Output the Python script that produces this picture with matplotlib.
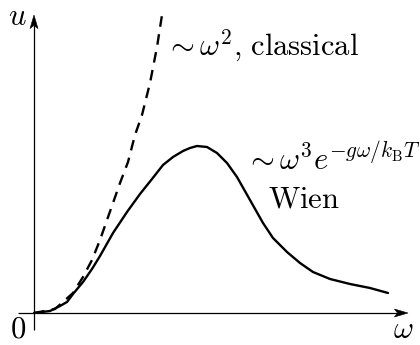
import matplotlib
matplotlib.use("Agg")
import matplotlib.pyplot as plt
from matplotlib.patches import Polygon

plt.rcParams['mathtext.fontset'] = 'cm'
plt.rcParams['font.family'] = ['DejaVu Serif']

# Spectral energy density (arbitrary units)
omega_wien = [0.0, 0.4, 0.65, 0.825, 0.975, 1.225, 1.45, 1.65, 1.975, 2.325,
              2.65, 2.95, 3.225, 3.475, 3.725, 3.9, 4.075, 4.325, 4.575, 4.825,
              5.075, 5.4, 5.725, 5.975, 6.325, 6.65, 6.975, 7.4, 7.9, 8.4, 8.85]
u_wien = [0.0, 0.05, 0.175, 0.275, 0.475, 0.775, 1.1, 1.425, 2.0, 2.525,
          2.975, 3.35, 3.7, 3.9, 4.05, 4.125, 4.175, 4.15, 4.0, 3.75,
          3.4, 2.825, 2.25, 1.875, 1.525, 1.25, 1.025, 0.85, 0.725, 0.625, 0.5]

omega_classical = [0.0, 0.525, 0.975, 1.225, 1.45, 1.65, 1.825, 1.975, 2.15,
                   2.35, 2.525, 2.7, 2.9, 3.075, 3.2]
u_classical = [0.0, 0.1, 0.5, 0.9, 1.325, 1.825, 2.325, 2.75, 3.25,
               3.775, 4.45, 4.95, 5.75, 6.65, 7.45]

fig = plt.figure(figsize=(4.2, 3.45), dpi=100)
ax = fig.add_axes([0, 0, 1, 1])
ax.set_xlim(-0.85, 9.65)
ax.set_ylim(-0.8, 7.825)
ax.axis('off')


def axis_arrow(x0, y0, x1, y1, length=0.34, half=0.1, notch=0.08):
    """Axis line ending in a slim stealth-style arrowhead."""
    dx, dy = x1 - x0, y1 - y0
    n = (dx * dx + dy * dy) ** 0.5
    ux, uy = dx / n, dy / n
    px, py = -uy, ux
    bx, by = x1 - ux * length, y1 - uy * length
    ax.plot([x0, bx + ux * notch], [y0, by + uy * notch],
            color='black', lw=0.9, solid_capstyle='butt')
    head = [(x1, y1),
            (bx + px * half, by + py * half),
            (bx + ux * notch, by + uy * notch),
            (bx - px * half, by - py * half)]
    ax.add_patch(Polygon(head, closed=True, facecolor='black',
                         edgecolor='black', lw=0.4, joinstyle='miter'))


axis_arrow(-0.4, 0.0, 9.35, 0.0)
axis_arrow(0.0, -0.425, 0.0, 7.45)

ax.plot(omega_classical, u_classical, color='black', lw=1.7,
        dashes=(4.5, 3.2), dash_capstyle='butt')
ax.plot(omega_wien, u_wien, color='black', lw=1.7,
        solid_joinstyle='round', solid_capstyle='round')

fs = 22
ax.text(-0.42, 7.42, r'$u$', fontsize=fs, ha='center', va='center')
ax.text(-0.41, -0.4, r'$0$', fontsize=fs, ha='center', va='center')
ax.text(9.225, -0.42, r'$\omega$', fontsize=fs, ha='center', va='center')
ax.text(3.27, 6.45, r'$\sim\omega^2{,}\ \mathrm{classical}$', fontsize=fs,
        ha='left', va='baseline')
ax.text(5.27, 3.575, r'$\sim\omega^3 e^{-g\omega/k_{\mathrm{B}}T}$',
        fontsize=fs, ha='left', va='baseline')
ax.text(5.85, 2.65, r'$\mathrm{Wien}$', fontsize=fs, ha='left',
        va='baseline')

fig.savefig('out.png', dpi=100)
